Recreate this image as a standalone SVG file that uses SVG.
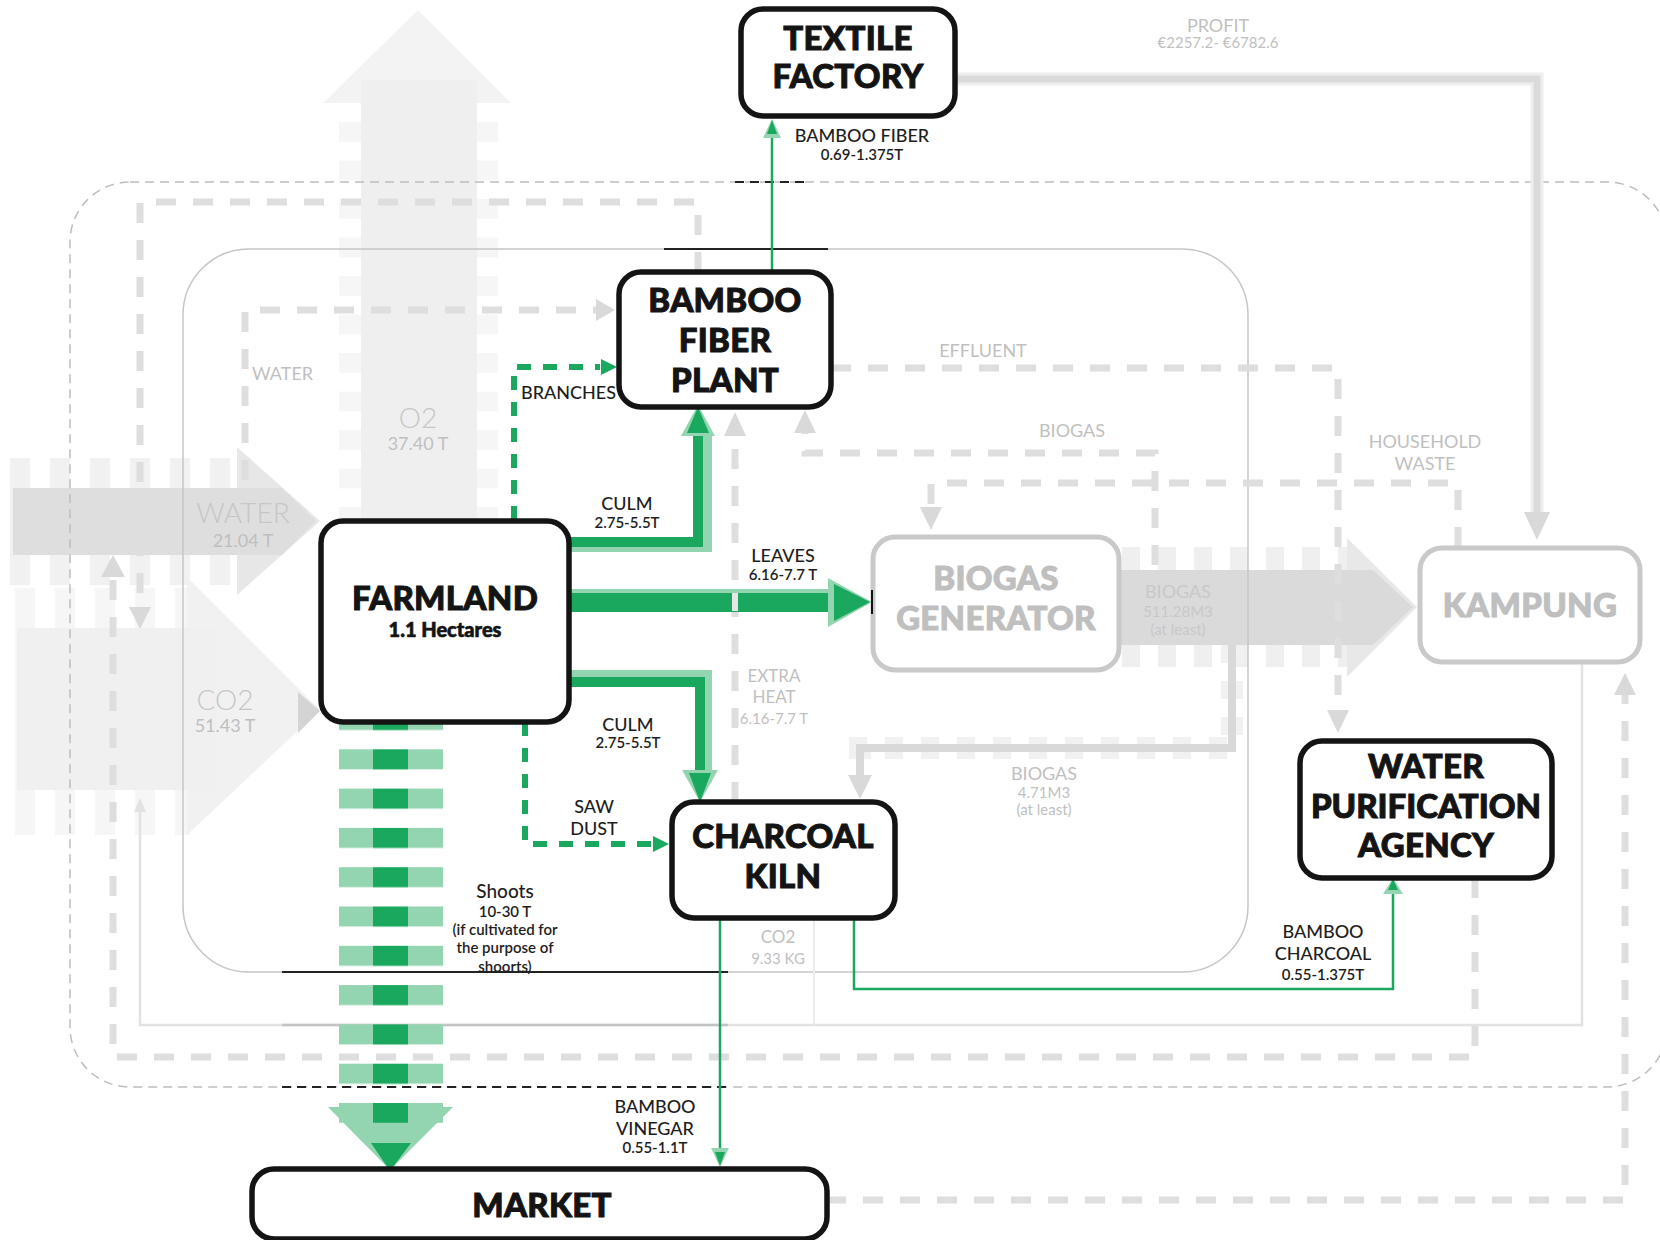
<svg xmlns="http://www.w3.org/2000/svg" width="1660" height="1240" viewBox="0 0 1660 1240">
<style>
.node{fill:#fff;stroke:#141414;stroke-width:5.5}
.gnode{fill:#fff;stroke:#c9c9c9;stroke-width:5}
.t{font-family:Lato,"Open Sans","Liberation Sans",sans-serif;font-weight:900;font-size:33px;fill:#141414;stroke:#141414;stroke-width:1;text-anchor:middle;letter-spacing:0.3px}
.tg{font-family:Lato,"Open Sans","Liberation Sans",sans-serif;font-weight:900;font-size:33px;fill:#bfbfbf;stroke:#bfbfbf;stroke-width:1;text-anchor:middle;letter-spacing:0.3px}
.l{font-family:Lato,"Open Sans","Liberation Sans",sans-serif;font-weight:500;font-size:18px;fill:#1e1e1e;text-anchor:middle}
.ls{font-family:Lato,"Open Sans","Liberation Sans",sans-serif;font-weight:600;font-size:15px;fill:#1e1e1e;text-anchor:middle}
.g{font-family:Lato,"Open Sans","Liberation Sans",sans-serif;font-weight:400;font-size:18px;fill:#bfbfbf;text-anchor:middle}
.gs{font-family:Lato,"Open Sans","Liberation Sans",sans-serif;font-weight:400;font-size:15px;fill:#bfbfbf;text-anchor:middle}
.gb{font-family:Lato,"Open Sans","Liberation Sans",sans-serif;font-weight:300;font-size:28px;fill:#c6c6c6;text-anchor:middle}
.gd{fill:none;stroke:#dedede;stroke-width:7;stroke-dasharray:20 17}
.gh{fill:#d9d9d9}
.gl{fill:none;stroke:#19a85d;stroke-width:2.5}
.gdash{fill:none;stroke:#19a85d;stroke-width:6;stroke-dasharray:14 12}
.dk{fill:#19a85d}
.lt{fill:#93d4b1}
</style>
<defs>
<pattern id="vs" x="10" y="0" width="40" height="10" patternUnits="userSpaceOnUse"><rect width="20" height="10" fill="#f1f1f1"/></pattern>
<pattern id="vs2" x="15" y="0" width="40" height="10" patternUnits="userSpaceOnUse"><rect width="20" height="10" fill="#f6f6f6"/></pattern>
<pattern id="vs3" x="1122" y="0" width="36" height="10" patternUnits="userSpaceOnUse"><rect width="18" height="10" fill="#efefef"/></pattern>
<pattern id="hs" x="0" y="122" width="10" height="38.5" patternUnits="userSpaceOnUse"><rect width="10" height="20" fill="#f6f6f6"/></pattern>
<pattern id="shoot" x="339" y="710" width="104" height="39.3" patternUnits="userSpaceOnUse"><rect width="104" height="20" fill="#93d4b1"/><rect x="34" width="35" height="20" fill="#19a85d"/></pattern>
</defs>
<rect width="1660" height="1240" fill="#fff"/>

<g id="connectors">
<g id="flow-o2">
<rect x="339" y="110" width="159" height="410" fill="url(#hs)"/>
<polygon points="323,103 418,10 511,103" fill="#f3f3f3"/>
<rect x="361" y="80" width="116" height="440" fill="#efefef"/>
</g>
<g id="flow-water">
<rect x="10" y="458" width="228" height="127" fill="url(#vs)"/>
<polygon points="237,447 320,521 237,595" fill="#e7e7e7"/>
<polygon points="13,488 282,488 316,521 282,555 13,555" fill="#dedede"/>
</g>
<g id="flow-co2">
<rect x="15" y="588" width="175" height="247" fill="url(#vs2)"/>
<polygon points="187,577 320,710 187,835" fill="#f1f1f1"/>
<rect x="17" y="628" width="200" height="162" fill="#f0f0f0"/>
<polygon points="298,692 320,711 298,733" fill="#d4d4d4"/>
</g>
<g id="flow-biogas">
<rect x="1122" y="547" width="225" height="120" fill="url(#vs3)"/>
<polygon points="1347,538 1417,607 1347,677" fill="#e8e8e8"/>
<polygon points="1119,570 1373,570 1413,607 1373,645 1119,645" fill="#dadada"/>
</g>

<rect x="70" y="182" width="1597" height="905" rx="60" fill="none" stroke="#bdbdbd" stroke-width="1.5" stroke-dasharray="9 6"/>
<path d="M735,182 H806 M282,1087 H728" fill="none" stroke="#222" stroke-width="1.8" stroke-dasharray="9 6"/>
<rect x="183" y="249" width="1065" height="723" rx="66" fill="none" stroke="#c6c6c6" stroke-width="1.5"/>
<path d="M664,249 H828 M282,972 H728" fill="none" stroke="#222" stroke-width="1.8"/>

<path d="M1582,662 V1025 H140 V808" fill="none" stroke="#e2e2e2" stroke-width="2.5"/>
<path d="M282,1025 H728" fill="none" stroke="#c4c4c4" stroke-width="2.5"/>
<path d="M814,918 V1025" fill="none" stroke="#ececec" stroke-width="2"/>
<polygon points="134,812 146,812 140,798" fill="#e2e2e2"/>

<path d="M956,79 H1537 V515" fill="none" stroke="#eeeeee" stroke-width="13"/>
<path d="M956,79 H1537 V515" fill="none" stroke="#dadada" stroke-width="7"/>
<polygon points="1524,512 1550,512 1537,540" class="gh"/>

<path class="gd" d="M245,480 V310 H596"/>
<polygon class="gh" points="596,299 615,310 596,321"/>
<path class="gd" d="M698,272 V202 H140 V608"/>
<polygon class="gh" points="129,607 151,607 140,629"/>
<path class="gd" d="M831,368 H1338 V710"/>
<polygon class="gh" points="1327,710 1349,710 1338,733"/>
<path class="gd" d="M1155,565 V453 H805 V432"/>
<polygon class="gh" points="794,433 816,433 805,410"/>
<path class="gd" d="M1458,547 V483 H931 V507"/>
<polygon class="gh" points="920,507 942,507 931,530"/>
<path class="gd" d="M735,802 V435"/>
<polygon class="gh" points="724,436 746,436 735,412"/>
<path class="gd" d="M1475,878 V1057 H113 V577"/>
<polygon class="gh" points="101,577 125,577 113,555"/>
<path class="gd" d="M826,1200 H1625 V695"/>
<polygon class="gh" points="1614,695 1636,695 1625,673"/>
<path d="M1232,645 V748 H860 V775" fill="none" stroke="#f1f1f1" stroke-width="22" stroke-dasharray="18 18"/>
<path d="M1232,645 V748 H860 V775" fill="none" stroke="#d9d9d9" stroke-width="8"/>
<polygon class="gh" points="848,775 872,775 860,799"/>

<g id="flow-shoots">
<polygon points="328,1107 453,1107 390,1170" class="lt"/>
<rect x="339" y="710" width="104" height="413" fill="url(#shoot)"/>
<polygon points="371,1143 411,1143 390,1171" class="dk"/>
</g>
<g id="flow-culm-up">
<path d="M560,545 H705 V432" fill="none" stroke="#93d4b1" stroke-width="14"/>
<path d="M560,542 H698 V432" fill="none" stroke="#19a85d" stroke-width="10"/>
<polygon points="681,436 715,436 698,405" class="lt"/>
<polygon points="687,433 709,433 698,407" class="dk"/>
</g>
<g id="flow-leaves">
<path d="M560,600 H834" fill="none" stroke="#93d4b1" stroke-width="22"/>
<path d="M560,602.5 H836" fill="none" stroke="#19a85d" stroke-width="19"/>
<polygon points="828,578 872,602 828,627" class="lt"/>
<polygon points="834,584 870,602 834,621" class="dk"/>
<rect x="732" y="593" width="6" height="18" fill="#e6e6e6"/>
</g>
<g id="flow-culm-down">
<path d="M560,677 H705 V782" fill="none" stroke="#93d4b1" stroke-width="14"/>
<path d="M560,682 H700 V782" fill="none" stroke="#19a85d" stroke-width="10"/>
<polygon points="682,770 718,770 700,802" class="lt"/>
<polygon points="689,773 711,773 700,802" class="dk"/>
</g>
<path class="gdash" d="M514,520 V367 H600"/>
<polygon points="601,359 617,367 601,375" class="dk"/>
<path class="gdash" d="M525,722 V844 H652"/>
<polygon points="653,836 669,844 653,852" class="dk"/>
<path class="gl" d="M772,272 V128"/>
<polygon points="763,138 781,138 772,119" class="lt"/>
<polygon points="767,134 777,134 772,120" class="dk"/>
<path class="gl" d="M720,918 V1152"/>
<polygon points="711,1148 729,1148 720,1167" class="lt"/>
<polygon points="715,1152 725,1152 720,1166" class="dk"/>
<path class="gl" d="M854,918 V989 H1393 V892"/>
<polygon points="1383,894 1403,894 1393,878" class="lt"/>
<polygon points="1388,890 1398,890 1393,879" class="dk"/>
</g>

<g id="node-textile">
<rect class="node" x="741" y="9" width="214" height="107" rx="22"/>
<text class="t" x="848" y="50">TEXTILE</text>
<text class="t" x="848" y="88">FACTORY</text>
</g>
<g id="node-bfp">
<rect class="node" x="619" y="272" width="212" height="135" rx="22"/>
<text class="t" x="725" y="312">BAMBOO</text>
<text class="t" x="725" y="352">FIBER</text>
<text class="t" x="725" y="392">PLANT</text>
</g>
<g id="node-farmland">
<rect class="node" x="321" y="521" width="248" height="201" rx="22"/>
<text class="t" x="445" y="610">FARMLAND</text>
<text class="t" x="445" y="637" style="font-size:20px;stroke-width:0.6;letter-spacing:0">1.1 Hectares</text>
</g>
<g id="node-biogas">
<rect class="gnode" x="873" y="537" width="246" height="133" rx="22"/>
<path d="M872,590 V614" stroke="#141414" stroke-width="2"/>
<text class="tg" x="996" y="590">BIOGAS</text>
<text class="tg" x="996" y="630">GENERATOR</text>
</g>
<g id="node-kampung">
<rect class="gnode" x="1420" y="548" width="220" height="114" rx="22"/>
<text class="tg" x="1530" y="617">KAMPUNG</text>
</g>
<g id="node-kiln">
<rect class="node" x="672" y="802" width="223" height="116" rx="22"/>
<text class="t" x="783" y="848">CHARCOAL</text>
<text class="t" x="783" y="888">KILN</text>
</g>
<g id="node-water">
<rect class="node" x="1300" y="741" width="252" height="137" rx="22"/>
<text class="t" x="1426" y="778">WATER</text>
<text class="t" x="1426" y="818" style="letter-spacing:0">PURIFICATION</text>
<text class="t" x="1426" y="857">AGENCY</text>
</g>
<g id="node-market">
<rect class="node" x="252" y="1169" width="575" height="70" rx="22"/>
<text class="t" x="542" y="1217">MARKET</text>
</g>

<g id="labels">
<text class="l" x="862" y="142">BAMBOO FIBER</text>
<text class="ls" x="862" y="160">0.69-1.375T</text>
<text class="l" x="521" y="399" style="text-anchor:start">BRANCHES</text>
<text class="l" x="627" y="510">CULM</text>
<text class="ls" x="627" y="528">2.75-5.5T</text>
<text class="l" x="783" y="562">LEAVES</text>
<text class="ls" x="783" y="580">6.16-7.7 T</text>
<text class="l" x="628" y="731">CULM</text>
<text class="ls" x="628" y="748">2.75-5.5T</text>
<text class="l" x="594" y="813">SAW</text>
<text class="l" x="594" y="835">DUST</text>
<text class="l" x="505" y="898" style="font-size:19px">Shoots</text>
<text class="ls" x="505" y="917">10-30 T</text>
<text class="ls" x="505" y="935">(if cultivated for</text>
<text class="ls" x="505" y="953">the purpose of</text>
<text class="ls" x="505" y="972">shoorts)</text>
<text class="l" x="655" y="1113">BAMBOO</text>
<text class="l" x="655" y="1135">VINEGAR</text>
<text class="ls" x="655" y="1153">0.55-1.1T</text>
<text class="l" x="1323" y="938">BAMBOO</text>
<text class="l" x="1323" y="960">CHARCOAL</text>
<text class="ls" x="1323" y="980">0.55-1.375T</text>

<text class="g" x="1218" y="32">PROFIT</text>
<text class="gs" x="1218" y="48">€2257.2- €6782.6</text>
<text class="g" x="252" y="380" style="text-anchor:start">WATER</text>
<text class="gb" x="418" y="428">O2</text>
<text class="g" x="418" y="450">37.40 T</text>
<text class="g" x="983" y="357">EFFLUENT</text>
<text class="g" x="1072" y="437">BIOGAS</text>
<text class="g" x="1425" y="448">HOUSEHOLD</text>
<text class="g" x="1425" y="470">WASTE</text>
<text class="gb" x="243" y="523">WATER</text>
<text class="g" x="243" y="547">21.04 T</text>
<text class="g" x="1178" y="598" style="fill:#c8c8c8">BIOGAS</text>
<text class="gs" x="1178" y="617" style="fill:#c8c8c8">511.28M3</text>
<text class="gs" x="1178" y="635" style="fill:#c8c8c8">(at least)</text>
<text class="g" x="774" y="682" style="font-size:17px">EXTRA</text>
<text class="g" x="774" y="703" style="font-size:17px">HEAT</text>
<text class="gs" x="774" y="724">6.16-7.7 T</text>
<text class="gb" x="225" y="710">CO2</text>
<text class="g" x="225" y="732">51.43 T</text>
<text class="g" x="1044" y="780">BIOGAS</text>
<text class="gs" x="1044" y="798">4.71M3</text>
<text class="gs" x="1044" y="815">(at least)</text>
<text class="g" x="778" y="943" style="font-size:17px">CO2</text>
<text class="gs" x="778" y="964">9.33 KG</text>
</g>
</svg>
